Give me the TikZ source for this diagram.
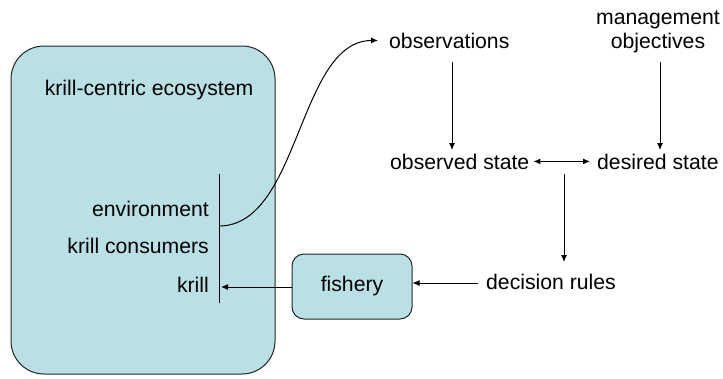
\documentclass[tikz,border=0pt]{standalone}
\usepackage{fontspec}
\setmainfont{Liberation Sans}
\usetikzlibrary{arrows.meta}
\definecolor{tealfill}{RGB}{185,224,228}
\begin{document}
\begin{tikzpicture}[x=1pt,y=-1pt,
  lbl/.style={inner sep=0pt,font=\fontsize{21.2}{24}\selectfont},
  conn/.style={line width=1pt,-{Latex[length=7pt,width=6pt]}},
  panel/.style={draw=black!85,line width=1pt,fill=tealfill}]
\useasboundingbox (0,0) rectangle (723,378);

% ecosystem panel and the fishery box
\node[panel,rounded corners=33pt,minimum width=264pt,minimum height=328pt] (eco) at (143,210) {};
\node[panel,lbl,rounded corners=12pt,minimum width=120pt,minimum height=65pt] (fish) at (352,286.5) {fishery};

% components inside the ecosystem
\node[lbl,anchor=base] (title) at (149,95) {krill-centric ecosystem};
\node[lbl,anchor=base east] (env) at (209,216) {environment};
\node[lbl,anchor=base east] (cons) at (209,253) {krill consumers};
\node[lbl,anchor=base east] (krill) at (209,292) {krill};
\coordinate (bartop) at (219,174);
\coordinate (barbot) at (219,303);
\coordinate (envpt) at (219,226);
\coordinate (krillpt) at (221,287);
\draw[line width=1pt] (bartop) -- (barbot);

% management loop
\node[lbl,anchor=base west] (obs) at (389,48) {observations};
\node[lbl,anchor=base] (mgmt) at (658,24) {management};
\node[lbl,anchor=base] (mgmt2) at (658,48) {objectives};
\node[lbl,anchor=base west] (ostate) at (390,169) {observed state};
\node[lbl,anchor=base west] (dstate) at (597,169) {desired state};
\node[lbl,anchor=base west] (rules) at (486,289) {decision rules};

\coordinate (obsout) at (452,62);
\coordinate (ostatein) at (452,150);
\coordinate (mgmtout) at (660,62);
\coordinate (dstatein) at (660,150);
\coordinate (cmpout) at (564,174);
\coordinate (rulesin) at (564,262);
\coordinate (rulesout) at (478,283);

\draw[conn] (envpt) .. controls (300,226) and (298,41) .. ([xshift=-11pt]obs.west);
\draw[conn] (obsout) -- (ostatein);
\draw[conn] (mgmtout) -- (dstatein);
\draw[conn,{Latex[length=7pt,width=6pt]}-{Latex[length=7pt,width=6pt]}] ([xshift=4pt]ostate.east) -- ([xshift=-7pt]dstate.west);
\draw[conn] (cmpout) -- (rulesin);
\draw[conn] (rulesout) -- (rulesout -| fish.east);
\draw[conn] (fish.west |- krillpt) -- (krillpt);
\end{tikzpicture}
\end{document}
